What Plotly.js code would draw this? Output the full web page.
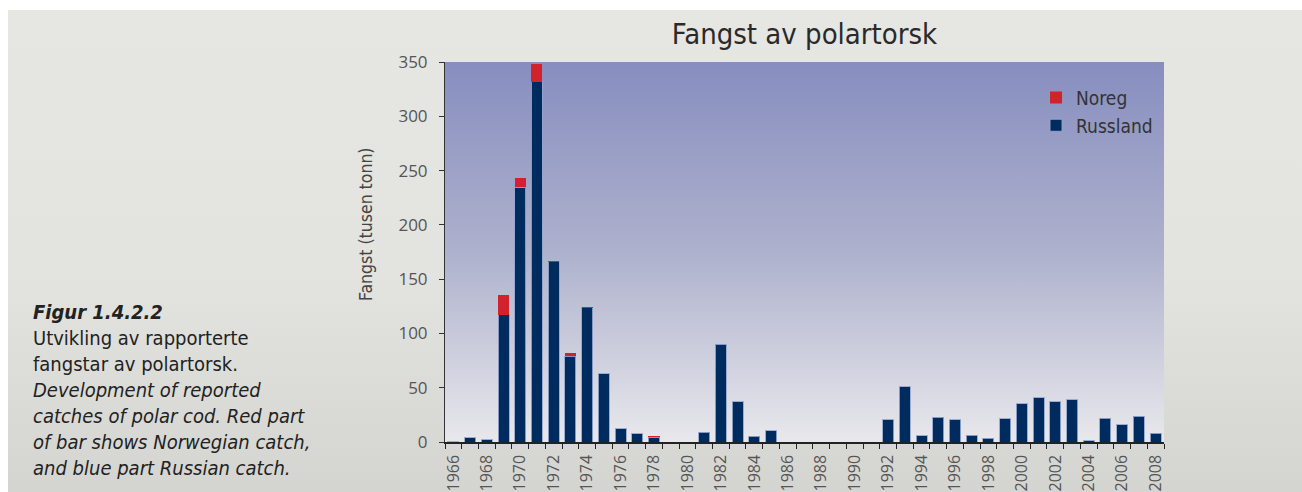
<!DOCTYPE html>
<html><head><meta charset="utf-8">
<script src="https://cdn.plot.ly/plotly-3.0.1.min.js"></script>
<style>
html,body{margin:0;padding:0;background:#fff;}
#wrap{position:relative;width:1302px;height:492px;overflow:hidden;}
#panel{position:absolute;left:8px;top:10px;width:1294px;height:482px;background:linear-gradient(to bottom,#E6E6E2 0%,#E3E3DF 55%,#D4D5D1 100%);}
#chart{position:absolute;left:0;top:0;width:1302px;height:492px;}
</style></head><body>
<div id="wrap"><div id="panel"></div><div id="chart"></div></div>
<script>
const years = [1966,1967,1968,1969,1970,1971,1972,1973,1974,1975,1976,1977,1978,1979,1980,
  1981,1982,1983,1984,1985,1986,1987,1988,1989,1990,1991,1992,1993,1994,1995,1996,1997,
  1998,1999,2000,2001,2002,2003,2004,2005,2006,2007,2008];
const russland = [0.3,4,2,117,234.5,332,166,79,123.5,63,12,7.6,4.6,0,0,
  8.8,90,37,5.2,10.4,0,0,0,0,0,0,20.3,51,5.8,23,20.5,6.4,
  3.4,21.5,35.3,40.8,37.1,39,1.2,22.1,15.9,23.9,7.9];
const noreg = [0,0,0,18,9,16.5,1,3,0.8,0,0,0,0.6,0,0,
  0.8,0.6,0,0,0,0,0,0,0,0,0,0,0,0,0,0,0,
  0,0,0,0,0,0,0,0,0,0,0];
const labelYears = [1966,1968,1970,1972,1974,1976,1978,1980,1982,1984,1986,1988,1990,1992,
  1994,1996,1998,2000,2002,2004,2006,2008];

const titleText = 'Fangst av polartorsk';
const yTitle = 'Fangst (tusen tonn)';
const captionLines = ['<b><i>Figur 1.4.2.2</i></b>','Utvikling av rapporterte','fangstar av polartorsk.',
  '<i>Development of reported</i>','<i>catches of polar cod. Red part</i>','<i>of bar shows Norwegian catch,</i>',
  '<i>and blue part Russian catch.</i>'];

const narrow = '"Liberation Sans Narrow", "DejaVu Sans Condensed", Roboto, sans-serif';
const boundaries = years.map(y => y - 0.5).concat([years[years.length-1] + 0.5]);

const bgSvg = 'data:image/svg+xml;charset=utf-8,' + encodeURIComponent(
  '<svg xmlns="http://www.w3.org/2000/svg" width="100" height="100" preserveAspectRatio="none">' +
  '<defs><linearGradient id="g" x1="0" y1="0" x2="0" y2="1">' +
  '<stop offset="0" stop-color="#878EBF"/><stop offset="0.5" stop-color="#AEB1CD"/>' +
  '<stop offset="1" stop-color="#E8E8EC"/></linearGradient></defs>' +
  '<rect width="100" height="100" fill="url(#g)"/></svg>');

const barLine = {color: 'rgba(150,165,205,0.9)', width: 1};
const traces = [
  {type: 'bar', name: 'Russland', x: years, y: russland,
   marker: {color: '#002B5E', line: barLine}, hoverinfo: 'x+y+name'},
  {type: 'bar', name: 'Noreg', x: years, y: noreg,
   marker: {color: '#D2232D', line: {width: 0}}, hoverinfo: 'x+y+name'}
];

const layout = {
  width: 1302, height: 492,
  margin: {l: 445, r: 138, t: 62, b: 50},
  paper_bgcolor: 'rgba(0,0,0,0)', plot_bgcolor: 'rgba(0,0,0,0)',
  barmode: 'stack', bargap: 0.34,
  font: {family: narrow, color: '#333'},
  title: {text: titleText, x: 0.5, xref: 'paper', y: 1 - 34/492, yanchor: 'middle',
          font: {family: narrow, size: 29, color: '#2a2a2a'}},
  xaxis: {range: [1965.5, 2008.5], tickmode: 'array', tickvals: labelYears,
          ticktext: labelYears.map(String), ticks: '', tickangle: -90,
          ticklabelstandoff: 5,
          tickfont: {family: '"Open Sans", sans-serif', size: 16, color: '#555'},
          showline: true, linecolor: '#222', linewidth: 1.5, showgrid: false, zeroline: false,
          minor: {tickmode: 'array', tickvals: boundaries, ticks: 'outside', ticklen: 5,
                  tickcolor: '#222', tickwidth: 1, showgrid: false}},
  yaxis: {range: [0, 350], tickmode: 'linear', tick0: 0, dtick: 50,
          ticks: 'outside', ticklen: 5, tickcolor: '#333', ticklabelstandoff: 8,
          tickfont: {family: '"Open Sans", sans-serif', size: 17, color: '#555'},
          showline: true, linecolor: '#333', linewidth: 1, showgrid: false, zeroline: false},
  legend: {x: 0.822, y: 0.956, xanchor: 'left', yanchor: 'top', traceorder: 'reversed',
           bgcolor: 'rgba(0,0,0,0)', font: {family: narrow, size: 19, color: '#333'}},
  images: [{source: bgSvg, xref: 'paper', yref: 'paper', x: 0, y: 1, sizex: 1, sizey: 1,
            sizing: 'stretch', xanchor: 'left', yanchor: 'top', layer: 'below'}],
  annotations: [
    {xref: 'paper', yref: 'paper', x: (31 - 445) / 719, y: (442 - 298) / 380,
     xanchor: 'left', yanchor: 'top', align: 'left', showarrow: false,
     text: captionLines.join('<br>'),
     font: {family: narrow, size: 20, color: '#222'}},
    {xref: 'paper', yref: 'paper', x: (366 - 445) / 719, y: (442 - 224) / 380,
     xanchor: 'center', yanchor: 'middle', textangle: -90, showarrow: false,
     text: yTitle, font: {family: narrow, size: 17.5, color: '#444'}}
  ]
};

Plotly.newPlot('chart', traces, layout, {displayModeBar: false, staticPlot: true});
</script>
</body></html>
